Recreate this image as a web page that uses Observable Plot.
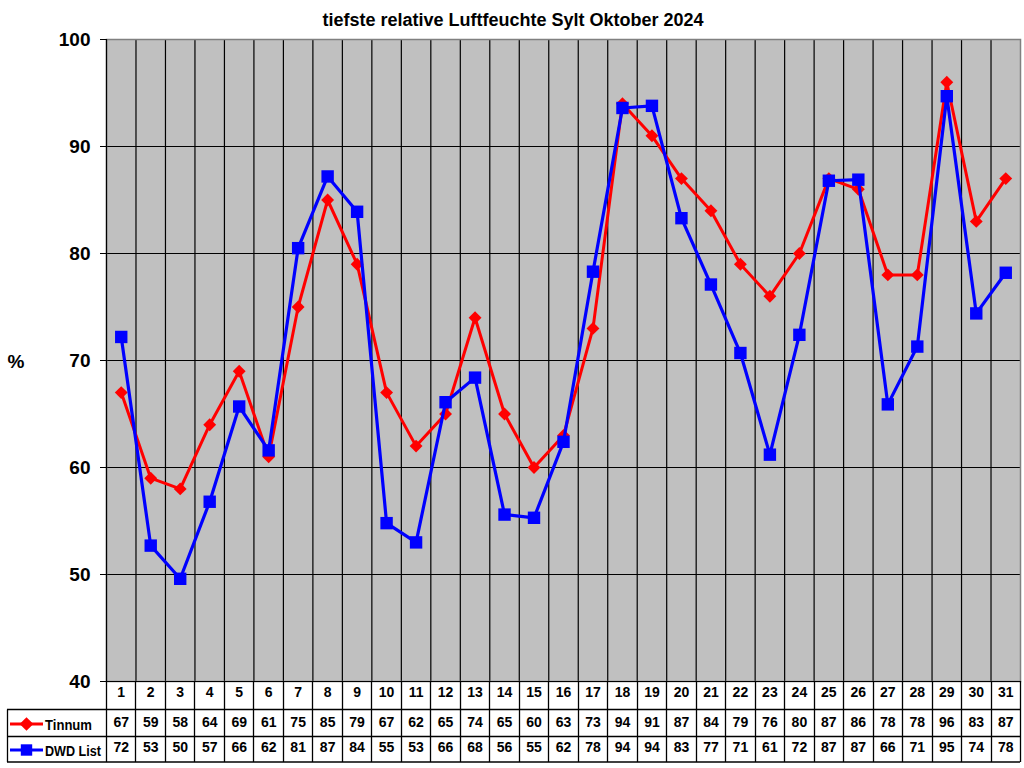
<!DOCTYPE html>
<html>
<head>
<meta charset="utf-8">
<script src="https://cdn.jsdelivr.net/npm/d3@7"></script>
<script src="https://cdn.jsdelivr.net/npm/@observablehq/plot@0.6"></script>
<style>
  html, body { margin: 0; padding: 0; background: #fff; }
  svg { display: block; }
</style>
</head>
<body>
<div id="chart"></div>
<script>
const title = "tiefste relative Luftfeuchte Sylt Oktober 2024";
const days = d3.range(1, 32);
const tinnum = [67,59,58,64,69,61,75,85,79,67,62,65,74,65,60,63,73,94,91,87,84,79,76,80,87,86,78,78,96,83,87];
const dwd = [72.2,52.7,49.6,56.8,65.7,61.6,80.5,87.2,83.9,54.8,53.0,66.1,68.4,55.6,55.3,62.4,78.3,93.6,93.8,83.3,77.1,70.7,61.2,72.4,86.8,86.9,65.9,71.3,94.7,74.4,78.2];
const yTicks = [40,50,60,70,80,90,100];
const seriesNames = ["Tinnum", "DWD List"];
const colors = ["#ff0000", "#0000ff"];

const font = "'Liberation Sans', Arial, sans-serif";
const tin = days.map((d, i) => ({day: d, v: tinnum[i]}));
const dw = days.map((d, i) => ({day: d, v: dwd[i]}));
const bounds = [0.5, ...days.map(d => d + 0.5)];

const plot = Plot.plot({
  width: 1024,
  height: 768,
  marginLeft: 106,
  marginRight: 4,
  marginTop: 39,
  marginBottom: 87,
  style: {fontFamily: font, background: "#fff", overflow: "visible"},
  x: {domain: [0.5, 31.5], axis: null},
  y: {domain: [40, 100], axis: null},
  marks: [
    Plot.frame({fill: "#c0c0c0", stroke: null}),
    Plot.ruleY(yTicks.slice(1, -1), {stroke: "#000", strokeWidth: 1.2}),
    Plot.ruleX(bounds.slice(1, -1), {stroke: "#000", strokeWidth: 1.2}),
    Plot.frame({stroke: "#808080", strokeWidth: 1.5}),
    Plot.ruleY([40], {stroke: "#000", strokeWidth: 1.2}),
    Plot.ruleX([0.5], {stroke: "#000", strokeWidth: 1.2}),
    Plot.axisY({ticks: yTicks, label: null, tickSize: 6, tickPadding: 10, fontSize: 19, fontWeight: "bold", tickFormat: d => d, stroke: "#000"}),
    Plot.line(tin, {x: "day", y: "v", stroke: colors[0], strokeWidth: 3}),
    Plot.dot(tin, {x: "day", y: "v", symbol: "diamond2", r: 5.8, fill: colors[0], stroke: "none"}),
    Plot.line(dw, {x: "day", y: "v", stroke: colors[1], strokeWidth: 3.2}),
    Plot.dot(dw, {x: "day", y: "v", symbol: "square", r: 7, fill: colors[1], stroke: "none"}),
    // data table below the chart
    Plot.text(days, {x: d => d, text: d => String(d), frameAnchor: "bottom", dy: 15, fontSize: 14, fontWeight: "bold", fill: "#000"}),
    Plot.text(tin, {x: "day", text: d => String(Math.round(d.v)), frameAnchor: "bottom", dy: 45, fontSize: 14, fontWeight: "bold", fill: "#000"}),
    Plot.text(dw, {x: "day", text: d => String(Math.round(d.v)), frameAnchor: "bottom", dy: 70.5, fontSize: 14, fontWeight: "bold", fill: "#000"})
  ]
});

document.getElementById("chart").appendChild(plot);

const svg = d3.select(plot);
const xs = plot.scale("x");
const xR = xs.apply(31.5);
const rows = [681, 709.5, 736.5, 762];
const g = svg.append("g").attr("stroke", "#000").attr("stroke-width", 1.3);
bounds.forEach(b => {
  const x = Math.round(xs.apply(b)) + 0.5;
  g.append("line").attr("x1", x).attr("x2", x).attr("y1", rows[0]).attr("y2", rows[3]);
});
[1, 2, 3].forEach(i => {
  g.append("line").attr("x1", 7).attr("x2", xR).attr("y1", rows[i]).attr("y2", rows[i]);
});
g.append("line").attr("x1", 7.5).attr("x2", 7.5).attr("y1", rows[1]).attr("y2", rows[3]);

// legend keys inside table
const keyY = [724, 750];
const keyLen = [47, 56];
seriesNames.forEach((name, i) => {
  svg.append("line").attr("x1", 10).attr("x2", 43).attr("y1", keyY[i]).attr("y2", keyY[i])
    .attr("stroke", colors[i]).attr("stroke-width", 3);
  const sym = i === 0 ? d3.symbol(d3.symbolDiamond2, 120) : d3.symbol(d3.symbolSquare, 130);
  svg.append("path").attr("d", sym()).attr("transform", `translate(26.5,${keyY[i]})`).attr("fill", colors[i]);
  svg.append("text").attr("x", 45).attr("y", keyY[i] + 1).attr("dy", "0.35em").attr("text-anchor", "start")
    .attr("textLength", keyLen[i]).attr("lengthAdjust", "spacingAndGlyphs")
    .attr("font-family", font).attr("font-size", 14.5).attr("font-weight", "bold").attr("fill", "#000").text(name);
});

// title and axis label
svg.append("text").attr("x", 513).attr("y", 26).attr("text-anchor", "middle")
  .attr("font-family", font).attr("font-size", 18).attr("font-weight", "bold").attr("fill", "#000").text(title);
svg.append("text").attr("x", 16).attr("y", 368).attr("text-anchor", "middle")
  .attr("font-family", font).attr("font-size", 19).attr("font-weight", "bold").attr("fill", "#000").text("%");
</script>
</body>
</html>
